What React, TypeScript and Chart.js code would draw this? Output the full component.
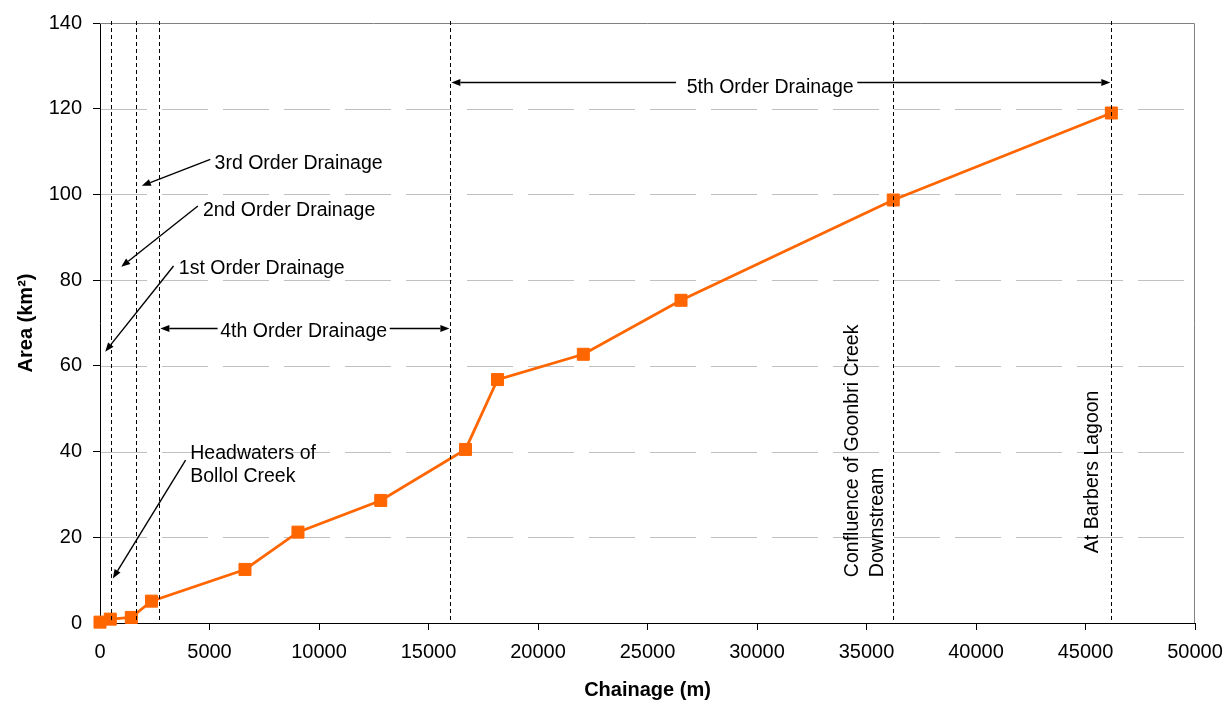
import React, { useEffect, useRef } from 'react';
import { Chart, registerables } from 'chart.js';

Chart.register(...registerables);

// ---- Data ----
const chainage = [0, 470, 1430, 2350, 6620, 9040, 12820, 16690, 18150, 22070, 26530, 36220, 46180];
const area = [0.2, 0.9, 1.3, 5.1, 12.5, 21.2, 28.6, 40.5, 56.8, 62.7, 75.3, 98.7, 119.0];
const orderBoundaries = [510, 1650, 2710, 16000, 36220, 46180];
const xTickValues = [0, 5000, 10000, 15000, 20000, 25000, 30000, 35000, 40000, 45000, 50000];
const yTickValues = [0, 20, 40, 60, 80, 100, 120, 140];

const orderNotes = [
  { text: '3rd Order Drainage', x: 5233, y: 107.3, from: [5037, 108.2], to: [1910, 102.0] },
  { text: '2nd Order Drainage', x: 4698, y: 96.3, from: [4470, 97.3], to: [969, 83.1] },
  { text: '1st Order Drainage', x: 3601, y: 82.7, from: [3359, 83.3], to: [238, 63.3] },
];
const headwaterLines = ['Headwaters of', 'Bollol Creek'];
const headwaterNote = { x: 4122, y: [39.5, 34.1], from: [3908, 38.0], to: [585, 10.4] };
const spanNotes = [
  { text: '4th Order Drainage', cx: 9300, y: 67.9, arrowY: 68.9, leftFrom: 5370, leftTo: 2710, rightFrom: 13230, rightTo: 16000 },
  { text: '5th Order Drainage', cx: 30600, y: 125.0, arrowY: 126.2, leftFrom: 26300, leftTo: 16000, rightFrom: 34580, rightTo: 46180 },
];
const verticalNotes = [
  { lines: ['Confluence of Goonbri Creek', 'Downstream'], x: [34350, 35490], y: 10.7 },
  { lines: ['At Barbers Lagoon'], x: [45320], y: 16.3 },
];

const FONT = '"Liberation Sans", Arial, Helvetica, sans-serif';
const NOTE_FONT = `19.5px ${FONT}`;

function drawArrow(ctx: CanvasRenderingContext2D, x1: number, y1: number, x2: number, y2: number) {
  const ang = Math.atan2(y2 - y1, x2 - x1);
  const len = 9;
  const hw = 3.5;
  const bx = x2 - len * Math.cos(ang);
  const by = y2 - len * Math.sin(ang);
  ctx.beginPath();
  ctx.moveTo(x1, y1);
  ctx.lineTo(bx, by);
  ctx.stroke();
  ctx.beginPath();
  ctx.moveTo(x2, y2);
  ctx.lineTo(bx + hw * Math.sin(ang), by - hw * Math.cos(ang));
  ctx.lineTo(bx - hw * Math.sin(ang), by + hw * Math.cos(ang));
  ctx.closePath();
  ctx.fill();
}

const decorPlugin = {
  id: 'decor',
  beforeDatasetsDraw(chart: any) {
    const { ctx, chartArea: a, scales } = chart;
    const y = scales.y;
    ctx.save();
    ctx.lineWidth = 1;
    ctx.strokeStyle = '#c0c0c0';
    ctx.setLineDash([46, 15]);
    for (const v of yTickValues) {
      if (v === yTickValues[0] || v === yTickValues[yTickValues.length - 1]) continue;
      const py = Math.round(y.getPixelForValue(v)) + 0.5;
      ctx.beginPath();
      ctx.moveTo(a.left + 1, py);
      ctx.lineTo(a.right, py);
      ctx.stroke();
    }
    ctx.setLineDash([]);
    ctx.strokeStyle = '#808080';
    const top = Math.round(a.top) + 0.5;
    const right = Math.round(a.right) - 0.5;
    ctx.beginPath();
    ctx.moveTo(a.left, top);
    ctx.lineTo(right, top);
    ctx.lineTo(right, a.bottom);
    ctx.stroke();
    ctx.restore();
  },
  afterDatasetsDraw(chart: any) {
    const { ctx, chartArea: a, scales } = chart;
    const x = scales.x;
    const y = scales.y;
    const px = (v: number) => x.getPixelForValue(v);
    const py = (v: number) => y.getPixelForValue(v);
    ctx.save();
    // dashed boundary lines
    ctx.strokeStyle = '#000';
    ctx.lineWidth = 1;
    ctx.setLineDash([4, 3]);
    for (const b of orderBoundaries) {
      const xx = Math.round(px(b)) + 0.5;
      ctx.beginPath();
      ctx.moveTo(xx, a.top - 2);
      ctx.lineTo(xx, a.bottom);
      ctx.stroke();
    }
    ctx.setLineDash([]);

    ctx.fillStyle = '#000';
    ctx.strokeStyle = '#000';
    ctx.lineWidth = 1.4;
    ctx.font = NOTE_FONT;
    ctx.textBaseline = 'middle';
    ctx.textAlign = 'left';

    for (const n of orderNotes) {
      ctx.fillText(n.text, px(n.x), py(n.y));
      drawArrow(ctx, px(n.from[0]), py(n.from[1]), px(n.to[0]), py(n.to[1]));
    }

    headwaterLines.forEach((t, i) => ctx.fillText(t, px(headwaterNote.x), py(headwaterNote.y[i])));
    drawArrow(ctx, px(headwaterNote.from[0]), py(headwaterNote.from[1]), px(headwaterNote.to[0]), py(headwaterNote.to[1]));

    ctx.textAlign = 'center';
    for (const s of spanNotes) {
      ctx.fillText(s.text, px(s.cx), py(s.y));
      const ay = Math.round(py(s.arrowY)) + 0.5;
      drawArrow(ctx, px(s.leftFrom), ay, px(s.leftTo) + 1, ay);
      drawArrow(ctx, px(s.rightFrom), ay, px(s.rightTo) - 1, ay);
    }

    ctx.textAlign = 'left';
    for (const v of verticalNotes) {
      v.lines.forEach((t, i) => {
        ctx.save();
        ctx.translate(px(v.x[i]), py(v.y));
        ctx.rotate(-Math.PI / 2);
        ctx.fillText(t, 0, 0);
        ctx.restore();
      });
    }
    ctx.restore();
  },
};

export default function App() {
  const canvasRef = useRef<HTMLCanvasElement | null>(null);

  useEffect(() => {
    const canvas = canvasRef.current;
    if (!canvas) return;
    const tickFont = { family: FONT, size: 20 };
    const titleFont = { family: FONT, size: 20, weight: 'bold' as const };
    const chart = new Chart(canvas, {
      type: 'line',
      data: {
        datasets: [
          {
            data: chainage.map((c, i) => ({ x: c, y: area[i] })),
            borderColor: '#FF6600',
            backgroundColor: '#FF6600',
            borderWidth: 2.75,
            pointStyle: 'rect',
            pointRadius: 8.5,
            pointHoverRadius: 8.5,
            pointBorderWidth: 1,
            pointBorderColor: '#FF6600',
            pointBackgroundColor: '#FF6600',
            tension: 0,
            clip: false as any,
          },
        ],
      },
      options: {
        responsive: false,
        animation: false,
        events: [],
        devicePixelRatio: 1,
        layout: { padding: { top: 23, right: 30, left: 0, bottom: 0 } },
        plugins: { legend: { display: false }, tooltip: { enabled: false } },
        scales: {
          x: {
            type: 'linear',
            min: 0,
            max: 50000,
            afterBuildTicks: (s: any) => {
              s.ticks = xTickValues.map((v) => ({ value: v }));
            },
            afterFit: (s: any) => {
              s.height = 79;
              s.paddingLeft = 0;
              s.paddingRight = 0;
            },
            ticks: {
              font: tickFont,
              color: '#000',
              padding: 10,
              maxRotation: 0,
              autoSkip: false,
              callback: (v: any) => String(v),
            },
            grid: {
              drawOnChartArea: false,
              drawTicks: true,
              tickLength: 7,
              tickWidth: 1,
              tickColor: (c: any) => (c.index === 0 ? 'rgba(0,0,0,0)' : '#000'),
            },
            border: { display: true, color: '#000', width: 1 },
            title: {
              display: true,
              text: 'Chainage (m)',
              font: titleFont,
              color: '#000',
              padding: { top: 0, bottom: 0 },
            },
          },
          y: {
            type: 'linear',
            min: 0,
            max: 140,
            afterBuildTicks: (s: any) => {
              s.ticks = yTickValues.map((v) => ({ value: v }));
            },
            afterFit: (s: any) => {
              s.width = 100;
              s.paddingTop = 0;
              s.paddingBottom = 0;
            },
            ticks: {
              font: tickFont,
              color: '#000',
              padding: 11,
              autoSkip: false,
              callback: (v: any) => String(v),
            },
            grid: {
              drawOnChartArea: false,
              drawTicks: true,
              tickLength: 7,
              tickWidth: 1,
              tickColor: (c: any) => (c.index === 0 ? 'rgba(0,0,0,0)' : '#000'),
            },
            border: { display: true, color: '#000', width: 1 },
            title: {
              display: true,
              text: 'Area (km²)',
              font: titleFont,
              color: '#000',
              padding: { top: 14, bottom: 0 },
            },
          },
        },
      },
      plugins: [decorPlugin],
    });
    return () => chart.destroy();
  }, []);

  return (
    <div style={{ position: 'fixed', left: 0, top: 0, width: 1225, height: 702, background: '#fff' }}>
      <canvas ref={canvasRef} width={1225} height={702} style={{ display: 'block', width: 1225, height: 702 }} />
    </div>
  );
}
